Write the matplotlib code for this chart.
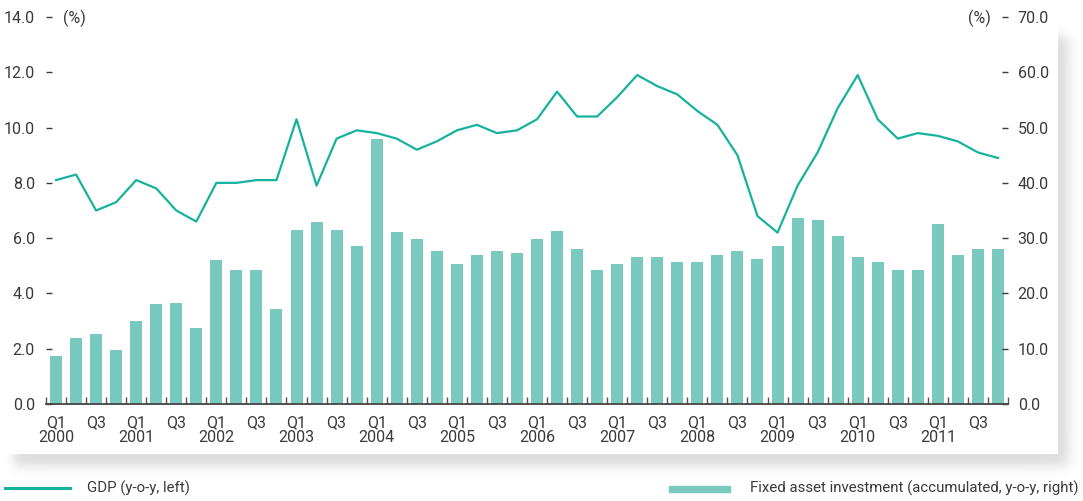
import numpy as np
import matplotlib
matplotlib.use('Agg')
import matplotlib.pyplot as plt
from matplotlib.lines import Line2D
from matplotlib.patches import Rectangle

plt.rcParams['font.family'] = ['Roboto', 'DejaVu Sans']

years = list(range(2000, 2012))

# GDP growth, y-o-y (%), left axis
gdp = [8.1, 8.3, 7.0, 7.3, 8.1, 7.8, 7.0, 6.6,
       8.0, 8.0, 8.1, 8.1, 10.3, 7.9, 9.6, 9.9,
       9.8, 9.6, 9.2, 9.5, 9.9, 10.1, 9.8, 9.9,
       10.3, 11.3, 10.4, 10.4, 11.1, 11.9, 11.5, 11.2,
       10.6, 10.1, 9.0, 6.8, 6.2, 7.9, 9.1, 10.7,
       11.9, 10.3, 9.6, 9.8, 9.7, 9.5, 9.1, 8.9]

# Fixed asset investment, accumulated y-o-y (%), right axis
fai = [8.6, 12.0, 12.7, 9.8, 15.1, 18.0, 18.3, 13.8,
       26.1, 24.3, 24.3, 17.2, 31.5, 33.0, 31.5, 28.5,
       47.9, 31.2, 29.9, 27.7, 25.4, 27.0, 27.7, 27.4,
       29.9, 31.3, 28.1, 24.3, 25.4, 26.6, 26.6, 25.7,
       25.7, 27.0, 27.7, 26.3, 28.5, 33.7, 33.3, 30.4,
       26.6, 25.6, 24.3, 24.3, 32.6, 27.0, 28.1, 28.1]

line_c = '#17b29e'
bar_c = '#79c9bf'
txt_c = '#3a3a3a'
fs = 11.5

W, H = 1083, 501
fig = plt.figure(figsize=(W / 100, H / 100), dpi=100)

# panel with soft shadow
bg = fig.add_axes([0, 0, 1, 1], zorder=-5)
xx, yy = np.meshgrid(np.arange(W) + 0.5, np.arange(H) + 0.5)
def step(v, a, w):
    return 0.5 * (1 + np.tanh((v - a) / w))
shade = step(xx, 14, 6) * (1 - step(xx, 1068, 8)) * step(yy, 36, 6) * (1 - step(yy, 466, 8))
bg.imshow(1 - 0.15 * shade, cmap='gray', vmin=0, vmax=1, extent=(0, W, H, 0), aspect='auto')
bg.add_patch(Rectangle((0, 0), 1057, 453, color='white'))
bg.set_xlim(0, W)
bg.set_ylim(H, 0)
bg.axis('off')

ax = fig.add_axes([46 / W, 1 - 404 / H, (1008 - 46) / W, (404 - 17) / H])
ax2 = ax.twinx()
x = np.arange(len(gdp))

ax2.bar(x, fai, width=0.6, color=bar_c)
ax.plot(x, gdp, color=line_c, lw=1.6)
ax.set_zorder(ax2.get_zorder() + 1)
ax.patch.set_visible(False)

ax.set_xlim(-0.5, len(gdp) - 0.5)
ax.set_ylim(0, 14)
ax2.set_ylim(0, 70)

for a in (ax, ax2):
    for s in ('left', 'right', 'top'):
        a.spines[s].set_visible(False)
ax2.spines['bottom'].set_visible(False)
ax.spines['bottom'].set_color('#444444')
ax.spines['bottom'].set_linewidth(1.3)

ax.set_yticks(np.arange(0, 14.1, 2))
ax.set_yticklabels(['%.1f' % v for v in np.arange(0, 14.1, 2)])
ax2.set_yticks(np.arange(0, 71, 10))
ax2.set_yticklabels(['%.1f' % v for v in np.arange(0, 71, 10)])
ax.tick_params(axis='y', direction='in', length=4.5, width=1, pad=8,
               colors=txt_c, labelsize=fs)
ax2.tick_params(axis='y', direction='in', length=4.5, width=1, pad=7,
                colors=txt_c, labelsize=fs)

labels = []
pos = []
for i in range(len(gdp)):
    q = i % 4
    if q == 0:
        pos.append(i)
        labels.append('Q1\n%d' % years[i // 4])
    elif q == 2:
        pos.append(i)
        labels.append('Q3')
ax.set_xticks(pos)
ax.set_xticklabels(labels, linespacing=1.0, va='top')
ax.set_xticks(np.arange(-0.5, len(gdp), 1), minor=True)
ax.tick_params(axis='x', which='major', length=0, pad=8, labelcolor=txt_c, labelsize=fs)
ax.tick_params(axis='x', which='minor', direction='in', length=5, width=1, color='#555555')

fig.text(63 / W, 1 - 18 / H, '(%)', ha='left', va='center', color=txt_c, fontsize=fs)
fig.text(991 / W, 1 - 18 / H, '(%)', ha='right', va='center', color=txt_c, fontsize=fs)

# legend
ly = 1 - 488 / H
fig.add_artist(Line2D([5 / W, 70 / W], [ly, ly], transform=fig.transFigure, color=line_c, lw=2.2))
fig.text(87 / W, ly, 'GDP (y-o-y, left)', ha='left', va='center', color=txt_c, fontsize=10.8)
fig.add_artist(Rectangle((669 / W, 1 - 491.7 / H), 61 / W, 6 / H, transform=fig.transFigure, color=bar_c))
fig.text(1079 / W, ly, 'Fixed asset investment (accumulated, y-o-y, right)', ha='right', va='center',
         color=txt_c, fontsize=10.8)

fig.savefig('out.png', dpi=100)
